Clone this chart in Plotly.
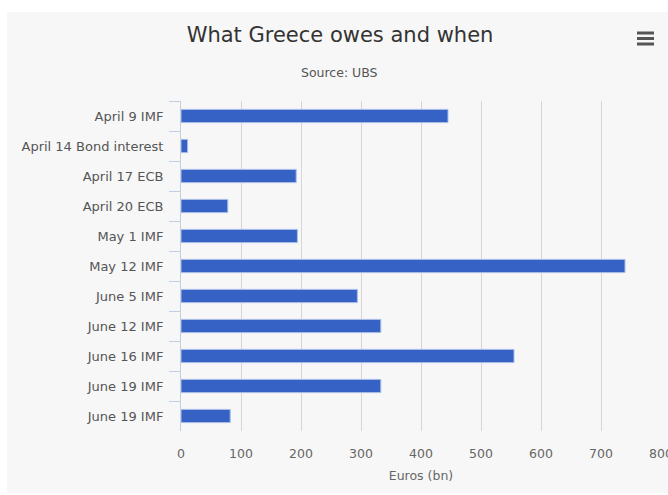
import plotly.graph_objects as go

labels = ["April 9 IMF", "April 14 Bond interest", "April 17 ECB", "April 20 ECB",
          "May 1 IMF", "May 12 IMF", "June 5 IMF", "June 12 IMF", "June 16 IMF",
          "June 19 IMF", "June 19 IMF"]
values = [445, 11, 192, 78, 194, 740, 294, 333, 555, 333, 82]
x_ticks = [0, 100, 200, 300, 400, 500, 600, 700, 800]

# make duplicate category labels unique with zero-width spaces
seen = {}
cats = []
for lab in labels:
    n = seen.get(lab, 0)
    cats.append(lab + "\u200b" * n)
    seen[lab] = n + 1

W, H = 668, 495
L, R, T, B = 181, 7, 101, 64
pw, ph = W - L - R, H - T - B

def px(x):
    return (x - L) / pw

def py(y):
    return (H - B - y) / ph

FONT = "DejaVu Sans, sans-serif"

fig = go.Figure()
fig.add_trace(go.Bar(
    x=values, y=cats, orientation="h",
    marker=dict(color="#3562c4", line=dict(color="#a9bfe9", width=1)),
    width=0.44,
))
# invisible helper trace so the ticks-only overlay axis gets its categories
fig.add_trace(go.Bar(
    x=values, y=cats, orientation="h", yaxis="y2", opacity=0,
    hoverinfo="skip", showlegend=False, width=0.44,
))

shapes = [
    dict(type="rect", xref="paper", yref="paper", x0=px(7), x1=px(668), y0=py(493), y1=py(12),
         fillcolor="#f7f7f7", line=dict(width=0), layer="below"),
]
for yy in (33, 38.5, 44):
    shapes.append(dict(type="line", xref="paper", yref="paper", x0=px(637), x1=px(654),
                       y0=py(yy), y1=py(yy), line=dict(color="#555555", width=3)))

fig.update_layout(
    width=W, height=H,
    margin=dict(l=L, r=R, t=T, b=B, autoexpand=False),
    paper_bgcolor="white", plot_bgcolor="rgba(0,0,0,0)",
    font=dict(family=FONT, color="#555555", size=12),
    showlegend=False,
    title=dict(text="What Greece owes and when", x=340 / W, xanchor="center",
               y=1 - 35 / H, yanchor="middle", font=dict(size=21, color="#333333", family=FONT)),
    annotations=[dict(text="Source: UBS", xref="paper", yref="paper", x=px(339), y=py(72),
                      xanchor="center", yanchor="middle", showarrow=False,
                      font=dict(size=12.5, color="#555555", family=FONT))],
    shapes=shapes,
    xaxis=dict(range=[0, 800], tickvals=x_ticks, showgrid=True, gridcolor="#d6d6d6", gridwidth=1,
               zeroline=False, showline=False, ticks="", ticklabelstandoff=13,
               ticklabeloverflow="allow", automargin=False,
               tickfont=dict(size=12.5, color="#666666"),
               title=dict(text="Euros (bn)", standoff=11, font=dict(size=12.5, color="#666666"))),
    # labels axis: invisible long ticks push labels away from the axis line
    yaxis=dict(autorange="reversed", type="category", showline=True, linecolor="#c0d0e0",
               linewidth=1, ticks="outside", ticklen=14, tickcolor="rgba(0,0,0,0)",
               showgrid=False, automargin=False,
               tickfont=dict(size=13, color="#555555")),
    # ticks-only axis: short light-blue ticks on category boundaries
    yaxis2=dict(overlaying="y", autorange="reversed", type="category", side="left",
                ticks="outside", tickson="boundaries", ticklen=11, tickcolor="#c0d0e0",
                showticklabels=False, showline=False, showgrid=False, automargin=False),
)

fig.write_html("out.html")
